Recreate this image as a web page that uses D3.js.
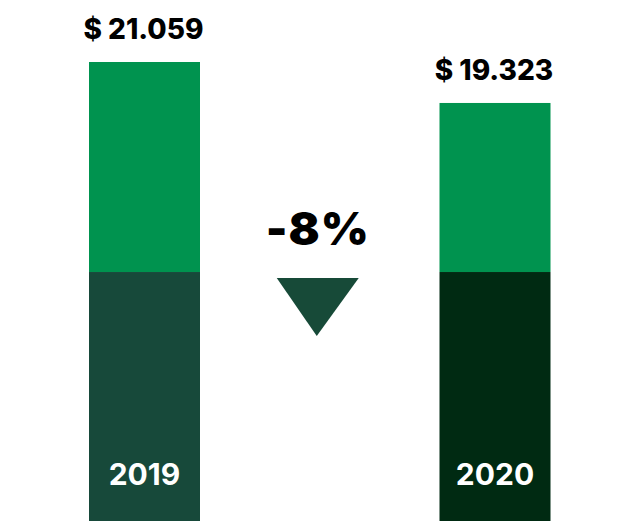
<!DOCTYPE html>
<html>
<head>
<meta charset="utf-8">
<script src="https://cdn.jsdelivr.net/npm/d3@7"></script>
<style>
  html, body { margin: 0; padding: 0; background: #fff; }
  svg { display: block; font-family: Inter, "Open Sans", sans-serif; }
</style>
</head>
<body>
<div id="chart"></div>
<script>
// data
var years = ['2019', '2020'];
var totals = [21.059, 19.323];
var baseShare = [12.16, 12.16];   // lower (dark) block, same height on both
var totalLabels = ['$ 21.059', '$ 19.323'];
var changeLabel = '-8%';

var width = 630, height = 521;

var svg = d3.select('#chart')
  .append('svg')
  .attr('width', width)
  .attr('height', height);

var x = d3.scalePoint()
  .domain(years)
  .range([144.5, 495])
  .padding(0);

// baseline sits below the visible area, bars run off the bottom
var y = d3.scaleLinear()
  .domain([0, 21.059])
  .range([559, 62]);

var barW = 111;
var topColor = '#00934f';
var baseColors = ['#17493a', '#002a12'];

var rows = years.map(function(yr, i) {
  return { year: yr, total: totals[i], base: baseShare[i], label: totalLabels[i], i: i };
});

// upper green block
svg.selectAll('rect.top')
  .data(rows)
  .enter()
  .append('rect')
  .attr('class', 'top')
  .attr('x', function(d) { return x(d.year) - barW / 2; })
  .attr('width', barW)
  .attr('y', function(d) { return y(d.total); })
  .attr('height', function(d) { return y(d.base) - y(d.total); })
  .attr('fill', topColor);

// lower dark block
svg.selectAll('rect.base')
  .data(rows)
  .enter()
  .append('rect')
  .attr('class', 'base')
  .attr('x', function(d) { return x(d.year) - barW / 2; })
  .attr('width', barW)
  .attr('y', function(d) { return y(d.base); })
  .attr('height', function(d) { return y(0) - y(d.base); })
  .attr('fill', function(d) { return baseColors[d.i]; });

// value labels above bars
svg.selectAll('text.total')
  .data(rows)
  .enter()
  .append('text')
  .attr('class', 'total')
  .attr('x', function(d) { return x(d.year) - 1; })
  .attr('y', function(d) { return y(d.total) - 23; })
  .attr('text-anchor', 'middle')
  .attr('font-size', 28)
  .attr('font-weight', 800)
  .attr('fill', '#000')
  .text(function(d) { return d.label; });

// year labels inside bars
svg.selectAll('text.year')
  .data(rows)
  .enter()
  .append('text')
  .attr('class', 'year')
  .attr('x', function(d) { return x(d.year); })
  .attr('y', 485)
  .attr('text-anchor', 'middle')
  .attr('font-size', 30)
  .attr('font-weight', 700)
  .attr('fill', '#fff')
  .text(function(d) { return d.year; });

// change label and arrow in the middle
var midX = (x(years[0]) + x(years[1])) / 2;

svg.append('text')
  .attr('x', midX - 2)
  .attr('y', 245)
  .attr('text-anchor', 'middle')
  .attr('font-size', 46)
  .attr('font-weight', 900)
  .attr('letter-spacing', 1)
  .attr('fill', '#000')
  .text(changeLabel);

svg.append('path')
  .attr('d', 'M' + (midX - 43) + ',278 L' + (midX + 39) + ',278 L' + (midX - 3) + ',336 Z')
  .attr('fill', '#174a38');
</script>
</body>
</html>
